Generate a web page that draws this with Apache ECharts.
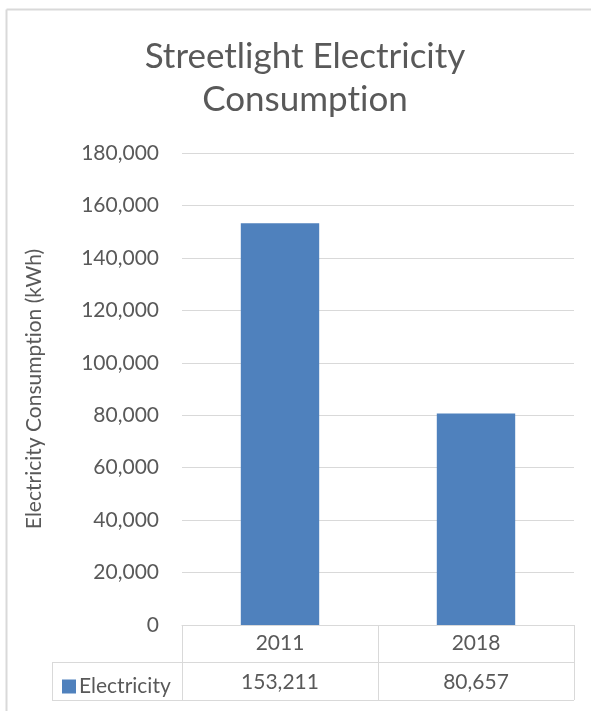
<!DOCTYPE html>
<html>
<head>
<meta charset="utf-8">
<script src="https://cdn.jsdelivr.net/npm/echarts@6/dist/echarts.min.js"></script>
<style>
html,body{margin:0;padding:0;background:#fff;}
#chart{width:591px;height:711px;}
</style>
</head>
<body>
<div id="chart"></div>
<script>
const categories = ['2011', '2018'];
const seriesName = 'Electricity';
const values = [153211, 80657];
const yTicks = [0, 20000, 40000, 60000, 80000, 100000, 120000, 140000, 160000, 180000];

const FONT = 'Lato';
const TXT = '#595959';
const LINE = '#d9d9d9';
const fmt = v => v.toLocaleString('en-US');
// zero-width non-joiner avoids the "ti" ligature of Lato
const noLig = s => s.replace(/ti/g, 't\u200Ci');

const gridL = 182, gridR = 574, gridT = 153, gridB = 625;
const tableLeft = 52, row1 = 662, row2 = 700;

const chart = echarts.init(document.getElementById('chart'), null, {renderer: 'canvas'});
chart.setOption({
  backgroundColor: '#fff',
  animation: false,
  title: {
    text: noLig('Streetlight Electricity\nConsumption'),
    left: 305,
    top: 35,
    padding: 0,
    textAlign: 'center',
    textStyle: {fontFamily: FONT, fontSize: 35, fontWeight: 'normal', color: TXT, lineHeight: 43}
  },
  legend: {
    data: [seriesName],
    left: 57,
    top: 671,
    icon: 'rect',
    itemWidth: 14,
    itemHeight: 14,
    itemGap: 0,
    textStyle: {fontFamily: FONT, fontSize: 21, color: TXT, padding: [0, 0, 0, -2]}
  },
  grid: {left: gridL, right: 591 - gridR, top: gridT, bottom: 711 - gridB, containLabel: false},
  xAxis: [{
    type: 'category',
    data: categories,
    position: 'bottom',
    axisLine: {show: true, lineStyle: {color: LINE, width: 1}},
    axisTick: {show: true, length: row2 - gridB, lineStyle: {color: LINE, width: 1}},
    axisLabel: {fontFamily: FONT, fontSize: 21, color: TXT, margin: 8}
  }, {
    type: 'category',
    data: values.map(fmt),
    position: 'bottom',
    offset: row1 - gridB,
    axisLine: {show: false},
    axisTick: {show: false},
    axisLabel: {fontFamily: FONT, fontSize: 21, color: TXT, margin: 10}
  }],
  yAxis: {
    type: 'value',
    min: 0,
    max: yTicks[yTicks.length - 1],
    interval: yTicks[1] - yTicks[0],
    name: noLig('Electricity Consumption (kWh)'),
    nameLocation: 'middle',
    nameGap: 137,
    nameTextStyle: {fontFamily: FONT, fontSize: 21, color: TXT},
    axisLine: {show: false},
    axisTick: {show: false},
    splitLine: {lineStyle: {color: LINE, width: 1}},
    axisLabel: {fontFamily: FONT, fontSize: 21, color: TXT, margin: 23, formatter: v => fmt(v)}
  },
  series: [{
    name: seriesName,
    type: 'bar',
    data: values,
    barWidth: '40%',
    itemStyle: {color: '#4f81bd'}
  }],
  graphic: [
    {type: 'line', shape: {x1: 6.5, y1: 9.5, x2: 591, y2: 9.5}, style: {stroke: LINE, lineWidth: 2}, silent: true},
    {type: 'line', shape: {x1: 6.5, y1: 9.5, x2: 6.5, y2: 711}, style: {stroke: LINE, lineWidth: 2}, silent: true},
    {type: 'line', shape: {x1: tableLeft, y1: row1 + 0.5, x2: gridR, y2: row1 + 0.5}, style: {stroke: LINE, lineWidth: 1}, silent: true},
    {type: 'line', shape: {x1: tableLeft, y1: row2 + 0.5, x2: gridR, y2: row2 + 0.5}, style: {stroke: LINE, lineWidth: 1}, silent: true},
    {type: 'line', shape: {x1: tableLeft + 0.5, y1: row1, x2: tableLeft + 0.5, y2: row2}, style: {stroke: LINE, lineWidth: 1}, silent: true}
  ]
});
</script>
</body>
</html>
